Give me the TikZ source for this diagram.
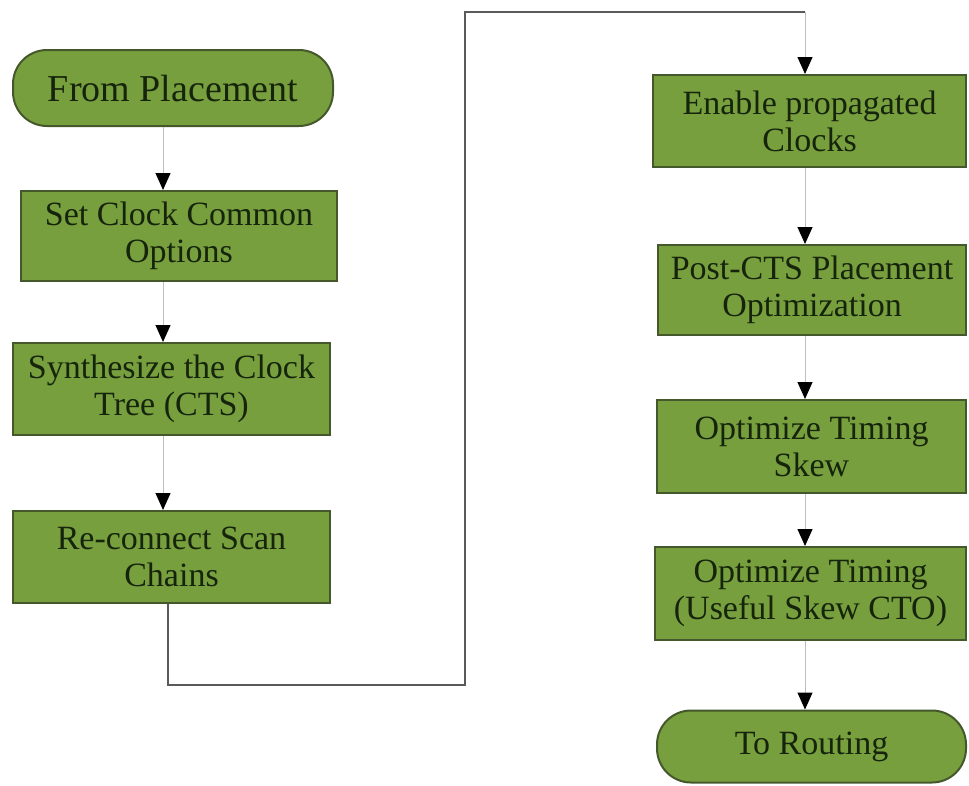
\documentclass[tikz,border=0pt]{standalone}
\usepackage{fontspec}
\setmainfont{Liberation Serif}
\usetikzlibrary{arrows.meta}
\definecolor{boxfill}{RGB}{119,159,62}
\definecolor{boxline}{RGB}{68,88,44}
\definecolor{boxtext}{RGB}{22,36,12}
\definecolor{thinline}{RGB}{190,190,190}
\definecolor{thickline}{RGB}{90,90,90}
\tikzset{
  stepbox/.style={draw=boxline, fill=boxfill, line width=2pt, text=boxtext,
    align=center, inner sep=0pt, font=\fontsize{34}{37}\selectfont},
  termbox/.style={stepbox, rounded corners=34pt},
  flow/.style={draw=thinline, line width=1pt,
    -{Triangle[width=15pt,length=17pt,color=black,fill=black]}},
  loopline/.style={draw=thickline, line width=2pt}
}
\begin{document}
\begin{tikzpicture}[x=1pt,y=-1pt]
\useasboundingbox (0,0) rectangle (969,785);
% left column
\node[termbox, minimum width=320pt, minimum height=76pt, font=\fontsize{38}{40}\selectfont] (fromp) at (173,88) {From Placement};
\node[stepbox, minimum width=316pt, minimum height=90pt] (setc) at (179,236) {Set Clock Common\\Options};
\node[stepbox, minimum width=317pt, minimum height=92pt] (synth) at (171.5,389) {Synthesize the Clock\\Tree (CTS)};
\node[stepbox, minimum width=317pt, minimum height=92pt] (recon) at (171.5,557) {Re-connect Scan\\Chains};
% right column
\node[stepbox, minimum width=313pt, minimum height=92pt] (enable) at (809.5,121) {Enable propagated\\Clocks};
\node[stepbox, minimum width=308pt, minimum height=90pt] (post) at (812,290) {Post-CTS Placement\\Optimization};
\node[stepbox, minimum width=309pt, minimum height=93pt] (skew) at (811.5,446.5) {Optimize Timing\\Skew};
\node[stepbox, minimum width=311pt, minimum height=93pt] (useful) at (810.5,593.5) {Optimize Timing\\(Useful Skew CTO)};
\node[termbox, minimum width=309pt, minimum height=72pt] (torout) at (811.5,746.5) {To Routing};
% reference x positions
\coordinate (lx) at (163,0);
\coordinate (dx) at (168,0);
\coordinate (rx) at (805,0);
% left arrows
\draw[flow] (fromp.south -| lx) -- (setc.north -| lx);
\draw[flow] (setc.south -| lx) -- (synth.north -| lx);
\draw[flow] (synth.south -| lx) -- (recon.north -| lx);
% loop connector
\coordinate (c1) at (168,685);
\coordinate (c2) at (465,685);
\coordinate (c3) at (465,12);
\coordinate (c4) at (805,12);
\draw[loopline] (recon.south -| dx) -- (c1) -- (c2) -- (c3) -- (c4);
\draw[flow] (c4) -- (enable.north -| rx);
% right arrows
\draw[flow] (enable.south -| rx) -- (post.north -| rx);
\draw[flow] (post.south -| rx) -- (skew.north -| rx);
\draw[flow] (skew.south -| rx) -- (useful.north -| rx);
\draw[flow] (useful.south -| rx) -- (torout.north -| rx);
\end{tikzpicture}
\end{document}
